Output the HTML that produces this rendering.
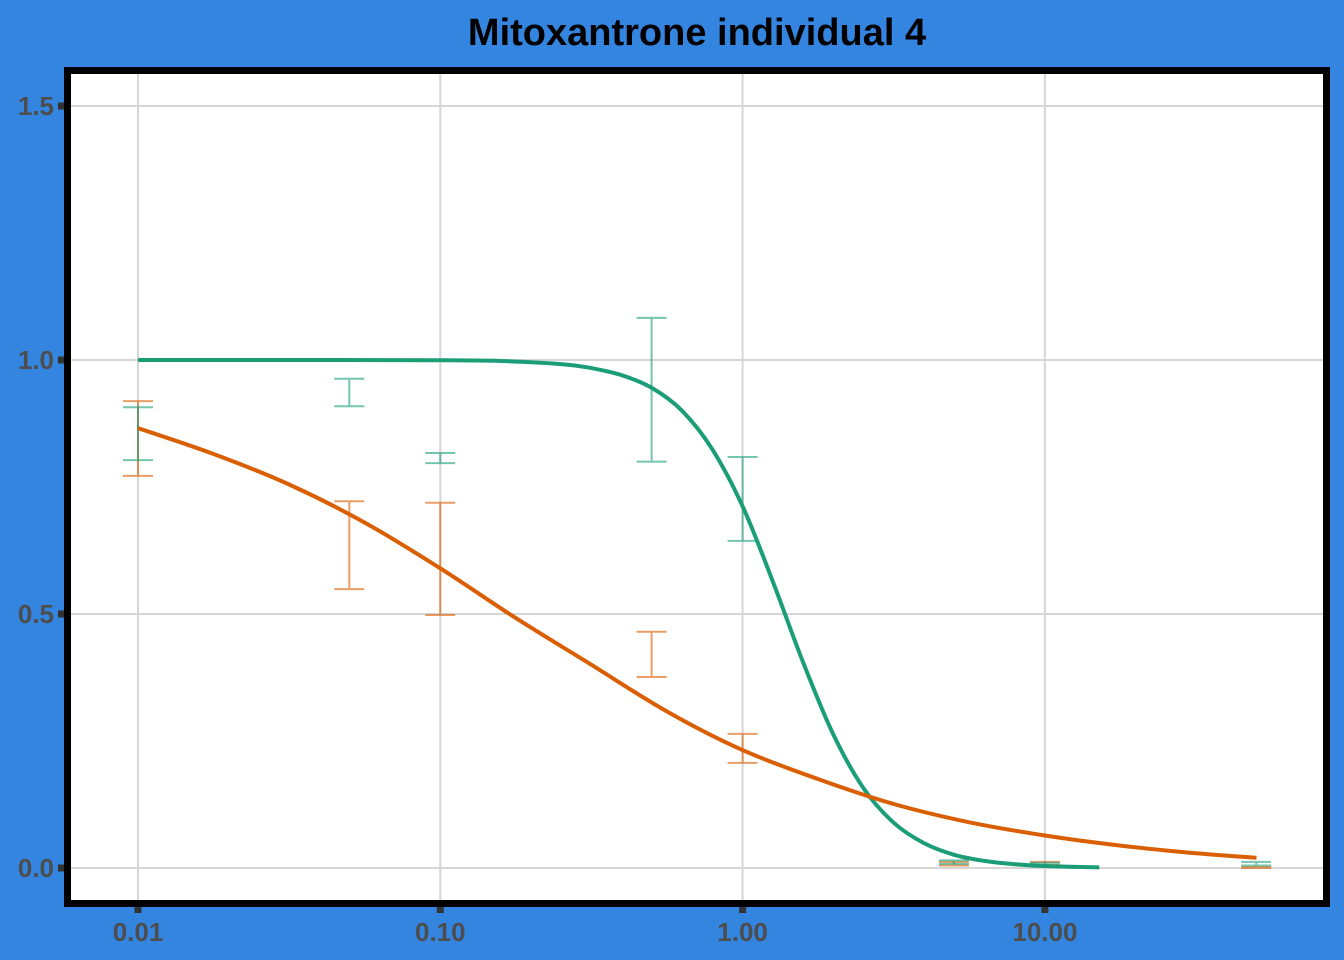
<!DOCTYPE html>
<html><head><meta charset="utf-8"><style>
body{margin:0;background:#3385E0;}
svg{display:block;font-family:"Liberation Sans",sans-serif;}
</style></head><body>
<svg width="1344" height="960">
<rect width="1344" height="960" fill="#3385E0"/>
<text x="697" y="45" text-anchor="middle" font-size="38" font-weight="bold" fill="#000">Mitoxantrone individual 4</text>
<rect x="67.5" y="70.5" width="1259" height="833" fill="#fff"/>
<g id="grid"></g>
<g id="bars"></g>
<g id="curves"></g>
<rect x="67.5" y="70.5" width="1259" height="833" fill="none" stroke="#000" stroke-width="7"/>
<g id="axes"></g>
</svg>
<script>
const xTicks=[0.01,0.1,1,10];
const xTickLabels=["0.01","0.10","1.00","10.00"];
const yTicks=[0,0.5,1,1.5];
const yTickLabels=["0.0","0.5","1.0","1.5"];
const doses=[0.01,0.05,0.1,0.5,1,5,10,50];
const greenLow=[0.803,0.909,0.797,0.80,0.644,0.008,0.004,0.005];
const greenHigh=[0.907,0.963,0.817,1.083,0.809,0.015,0.010,0.012];
const orangeLow=[0.772,0.549,0.498,0.376,0.207,0.005,0.006,0.0];
const orangeHigh=[0.919,0.722,0.719,0.465,0.264,0.012,0.012,0.002];
const curveLogX=[-2,-1.75,-1.5,-1.25,-1,-0.75,-0.5,-0.25,0,0.25,0.5,0.75,1,1.25,1.5,1.7];
const orangeCurve=[0.866,0.815,0.755,0.68,0.59,0.492,0.40,0.308,0.232,0.175,0.126,0.09,0.064,0.044,0.029,0.02];
const greenLogX=[-2,-1.5,-1,-0.8,-0.6,-0.5,-0.4,-0.3,-0.2,-0.1,0,0.1,0.2,0.3,0.4,0.5,0.6,0.7,0.8,0.9,1.0,1.18];
const greenCurve=[1,1,0.9995,0.998,0.992,0.984,0.970,0.945,0.900,0.824,0.712,0.564,0.405,0.263,0.157,0.089,0.049,0.026,0.014,0.0074,0.0039,0.0012];
const NS="http://www.w3.org/2000/svg";
const X=l=>138+(l+2)*302.3;
const xs=v=>X(Math.log10(v));
const ys=v=>868-v*508;
function mk(t,a,p){const e=document.createElementNS(NS,t);for(const k in a)e.setAttribute(k,a[k]);p.appendChild(e);return e;}
const grid=document.getElementById('grid'),axes=document.getElementById('axes');
xTicks.forEach((t,i)=>{
 const g=mk('line',{x1:xs(t),x2:xs(t),y1:72,y2:902,stroke:'#d6d6d6','stroke-width':2},grid);
 
 const k=mk('line',{x1:xs(t),x2:xs(t),y1:907,y2:913,stroke:'#333','stroke-width':7},axes);
 
 const tx=mk('text',{x:xs(t),y:941,'text-anchor':'middle','font-size':26,'font-weight':'bold',fill:'#4d4d4d'},axes);
 tx.textContent=xTickLabels[i];
 
});
yTicks.forEach((t,i)=>{
 const g=mk('line',{x1:70,x2:1324,y1:ys(t),y2:ys(t),stroke:'#d6d6d6','stroke-width':2},grid);
 
 const k=mk('line',{x1:58,x2:64,y1:ys(t),y2:ys(t),stroke:'#333','stroke-width':7},axes);
 
 const tx=mk('text',{x:54,y:ys(t)+9,'text-anchor':'end','font-size':26,'font-weight':'bold',fill:'#4d4d4d'},axes);
 tx.textContent=yTickLabels[i];
 
});
const bars=document.getElementById('bars');
function bar(x,lo,hi,c,n){
 const g=mk('g',{stroke:c,'stroke-width':2,opacity:0.6},bars);
 
 mk('line',{x1:x,x2:x,y1:ys(lo),y2:ys(hi)},g);
 mk('line',{x1:x-15,x2:x+15,y1:ys(lo),y2:ys(lo)},g);
 mk('line',{x1:x-15,x2:x+15,y1:ys(hi),y2:ys(hi)},g);
}
doses.forEach((d,i)=>{bar(xs(d),orangeLow[i],orangeHigh[i],'#D95F02','orange-error-bar');bar(xs(d),greenLow[i],greenHigh[i],'#1B9E77','green-error-bar');});
const curves=document.getElementById('curves');
function path(lx,v,c,n){
 const P=lx.map((l,i)=>[X(l),ys(v[i])]);
 let d='M'+P[0][0].toFixed(1)+','+P[0][1].toFixed(1);
 for(let i=0;i<P.length-1;i++){
  const p0=P[Math.max(0,i-1)],p1=P[i],p2=P[i+1],p3=P[Math.min(P.length-1,i+2)];
  const c1=[p1[0]+(p2[0]-p0[0])/6,p1[1]+(p2[1]-p0[1])/6];
  const c2=[p2[0]-(p3[0]-p1[0])/6,p2[1]-(p3[1]-p1[1])/6];
  d+='C'+c1.map(n=>n.toFixed(1)).join(',')+' '+c2.map(n=>n.toFixed(1)).join(',')+' '+p2.map(n=>n.toFixed(1)).join(',');
 }
 const p=mk('path',{d:d,fill:'none',stroke:c,'stroke-width':4,'stroke-linejoin':'round'},curves);
 
}
path(greenLogX,greenCurve,'#1B9E77','green-curve');
path(curveLogX,orangeCurve,'#D95F02','orange-curve');
</script>
</body></html>
